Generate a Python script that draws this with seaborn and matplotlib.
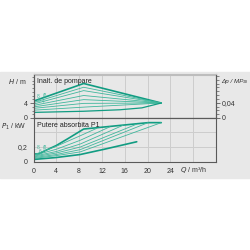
import numpy as np
import pandas as pd
import seaborn as sns
from matplotlib import pyplot as plt
from matplotlib.patches import Rectangle
from matplotlib.ticker import MultipleLocator, FixedLocator

# Q in m3/h, H in m
q_head = [0.2, 8.8, 22.4]
h_max = [4.6, 9.2, 4.0]
h_fan_left = [4.2, 3.8, 3.4, 3.0, 2.6, 2.1]
h_fan_mid = [8.2, 7.3, 6.0, 4.9, 3.9, 2.9]
h_fan_right = [4.0, 4.0, 4.0, 4.0, 4.0, 4.0]
q_min = [0.2, 8.8, 15.2, 19.0, 22.4]
h_min = [1.5, 1.8, 2.2, 2.7, 4.0]

# power P1 in kW
q_pmax = [0.2, 1.0, 2.0, 4.0, 6.0, 8.8, 20.1, 22.4]
p_max = [0.107, 0.11, 0.15, 0.22, 0.31, 0.44, 0.525, 0.525]
q_pmin = [0.2, 4.0, 8.2, 12.4, 18.1]
p_min = [0.035, 0.06, 0.10, 0.17, 0.27]
p_fan_start = [0.10, 0.09, 0.08, 0.07, 0.06, 0.05]
p_fan_q4 = [0.21, 0.17, 0.14, 0.12, 0.10, 0.085]
p_fan_q8 = [0.35, 0.29, 0.24, 0.20, 0.165, 0.135]
q_fan_end = [11.1, 13.4, 15.7, 18.1, 20.1, 22.4]
p_fan_end = [0.45, 0.47, 0.49, 0.505, 0.525, 0.525]

x_ticks = [0, 4, 8, 12, 16, 20, 24]

sns.set_theme(style='white')
plt.rcParams['font.family'] = ['Liberation Sans', 'DejaVu Sans']

BG = '#e8e8e8'
GRID = '#cdcdcd'
SPINE = '#5a5a5a'
DARK = '#119c82'
LIGHT = '#3fb79c'
FS = 5

fig = plt.figure(figsize=(2.5, 2.5), dpi=100, facecolor='white')
fig.patches.append(Rectangle((0, 0.288), 1, 0.424, transform=fig.transFigure,
                             color=BG, zorder=-10))

ax1 = fig.add_axes([0.134, 0.528, 0.73, 0.174])
ax2 = fig.add_axes([0.134, 0.352, 0.73, 0.176], sharex=ax1)

for ax in (ax1, ax2):
    ax.set_facecolor(BG)
    for s in ax.spines.values():
        s.set_color(SPINE)
        s.set_linewidth(0.8)
    ax.set_xlim(0, 32)
    ax.xaxis.set_major_locator(FixedLocator([0, 4, 8, 12, 16, 20, 24, 28]))
    ax.xaxis.set_minor_locator(MultipleLocator(1))
    ax.grid(True, axis='x', color=GRID, lw=0.7)
    ax.set_axisbelow(True)
    ax.tick_params(which='both', direction='out', color=SPINE, labelsize=FS,
                   pad=1.5, colors='#333333')
    ax.tick_params(which='major', length=3, width=0.6)
    ax.tick_params(which='minor', length=1.8, width=0.5)

# --- head curves
sns.lineplot(x=q_head, y=h_max, ax=ax1, color=DARK, lw=1.2)
for i in range(len(h_fan_left)):
    sns.lineplot(x=q_head, y=[h_fan_left[i], h_fan_mid[i], h_fan_right[i]],
                 ax=ax1, color=LIGHT, lw=0.6)
sns.lineplot(x=q_min, y=h_min, ax=ax1, color=DARK, lw=0.9)

ax1.set_ylim(0, 11.6)
ax1.spines['top'].set_color('#bdbdbd')
ax1.yaxis.set_major_locator(FixedLocator([0, 4]))
ax1.yaxis.set_minor_locator(MultipleLocator(1))
ax1.tick_params(axis='x', which='both', bottom=False, labelbottom=False)
ax1.set_xlabel('')
ax1.set_ylabel('')
ax1.text(0.02, 0.85, 'Inalt. de pompare', transform=ax1.transAxes, fontsize=FS,
         va='center', color='#222222')
ax1.text(-0.04, 0.85, '$H$ / m', transform=ax1.transAxes, fontsize=FS,
         va='center', ha='right', color='#333333')

ax1r = ax1.twinx()
ax1r.set_ylim(0, 11.6 * 0.0098)
ax1r.yaxis.set_major_locator(FixedLocator([0, 0.04]))
ax1r.yaxis.set_minor_locator(MultipleLocator(0.01))
ax1r.set_yticklabels(['0', '0,04'])
ax1r.tick_params(which='both', direction='out', color=SPINE, labelsize=FS,
                 pad=1.5, colors='#333333')
ax1r.tick_params(which='major', length=3, width=0.6)
ax1r.tick_params(which='minor', length=1.8, width=0.5)
for s in ax1r.spines.values():
    s.set_color(SPINE)
    s.set_linewidth(0.8)
ax1r.spines['top'].set_color('#bdbdbd')
ax1r.text(1.03, 0.85, 'Δp / MPa', transform=ax1r.transAxes, fontsize=4.5,
          va='center', ha='left', color='#333333', fontstyle='italic')

# --- power curves
sns.lineplot(x=q_pmax, y=p_max, ax=ax2, color=DARK, lw=1.2)
for i in range(len(p_fan_start)):
    sns.lineplot(x=[0.2, 4.0, 8.2, q_fan_end[i]],
                 y=[p_fan_start[i], p_fan_q4[i], p_fan_q8[i], p_fan_end[i]],
                 ax=ax2, color=LIGHT, lw=0.6)
sns.lineplot(x=q_pmin, y=p_min, ax=ax2, color=DARK, lw=1.2)

ax2.set_ylim(0, 0.587)
ax2.yaxis.set_major_locator(FixedLocator([0, 0.2, 0.4]))
ax2.yaxis.set_minor_locator(MultipleLocator(0.05))
ax2.set_yticklabels(['0', '0,2', ''])
ax2.grid(True, axis='y', color=GRID, lw=0.7)
ax2.set_xticklabels([str(t) for t in x_ticks] + [''])
ax2.set_xlabel('')
ax2.set_ylabel('')
ax2.text(0.02, 0.825, 'Putere absorbita P1', transform=ax2.transAxes, fontsize=FS,
         va='center', color='#222222')
ax2.text(-0.04, 0.8, '$P_1$ / kW', transform=ax2.transAxes, fontsize=FS,
         va='center', ha='right', color='#333333')
ax2.text(28, -0.075, '$Q$ / m³/h', transform=ax2.get_xaxis_transform(), fontsize=FS,
         va='top', ha='center', color='#333333')

# tiny speed labels near the origin
for q, h, s in [(0.8, 5.8, '8'), (2.0, 6.0, '(8'), (0.9, 4.6, '6'), (1.8, 4.4, '4')]:
    ax1.text(q, h, s, fontsize=3.5, color=LIGHT, ha='center', va='center')
for q, p, s in [(0.8, 0.19, '8'), (2.0, 0.2, '(8'), (1.2, 0.14, '6')]:
    ax2.text(q, p, s, fontsize=3.5, color=LIGHT, ha='center', va='center')

fig.savefig('out.png', dpi=100, facecolor='white')
